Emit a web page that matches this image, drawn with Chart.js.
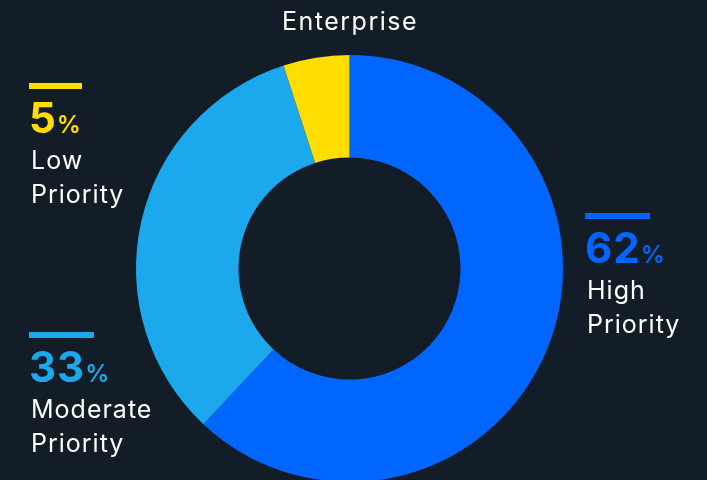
<!DOCTYPE html>
<html>
<head>
<meta charset="utf-8">
<title>Enterprise</title>
<script src="https://cdn.jsdelivr.net/npm/chart.js@4.4.0/dist/chart.umd.min.js"></script>
<style>
  html, body { margin: 0; padding: 0; background: #121d28; overflow: hidden; }
  #wrap { position: relative; width: 707px; height: 500px; }
</style>
</head>
<body>
<div id="wrap"><canvas id="priority-chart" width="707" height="500"></canvas></div>
<script>
// data
const categories = ['High Priority', 'Moderate Priority', 'Low Priority'];
const shares = [62, 33, 5];
const sliceColors = ['#0066ff', '#1ba8ec', '#ffdd00'];
const chartTitle = 'Enterprise';

// where each callout sits (bar top-left) and how long its bar is
const callouts = [
	{ x: 585, y: 213, bar: 65 },
	{ x: 29, y: 332, bar: 65 },
	{ x: 29, y: 83, bar: 53 }
];

const FONT = 'Inter, "Open Sans", sans-serif';

// draws the title and the three callouts next to the ring
const calloutPlugin = {
	id: 'callouts',
	afterDraw(chart) {
		const ctx = chart.ctx;
		ctx.save();
		ctx.letterSpacing = '1.5px';
		ctx.fillStyle = '#ffffff';
		ctx.textAlign = 'center';
		ctx.textBaseline = 'alphabetic';
		ctx.font = '400 25px ' + FONT;
		ctx.fillText(chartTitle, 350, 30);

		ctx.textAlign = 'left';
		categories.forEach((name, i) => {
			const c = callouts[i];
			const color = sliceColors[i];

			ctx.fillStyle = color;
			ctx.fillRect(c.x, c.y, c.bar, 6);

			ctx.letterSpacing = '1px';
			ctx.font = '700 42px ' + FONT;
			const num = String(shares[i]);
			ctx.fillText(num, c.x, c.y + 50);
			const w = ctx.measureText(num).width;
			ctx.letterSpacing = '0px';
			ctx.font = '600 24px ' + FONT;
			ctx.fillText('%', c.x + w, c.y + 50);

			ctx.letterSpacing = '1px';
			ctx.fillStyle = '#ffffff';
			ctx.font = '400 25px ' + FONT;
			const words = name.split(' ');
			ctx.fillText(words[0], c.x + 2, c.y + 86);
			ctx.fillText(words[1], c.x + 2, c.y + 120);
		});
		ctx.restore();
	}
};

const priorityChart = new Chart(document.getElementById('priority-chart'), {
	type: 'doughnut',
	data: {
		labels: categories,
		datasets: [{
			data: shares,
			backgroundColor: sliceColors,
			borderWidth: 0,
			hoverOffset: 0
		}]
	},
	options: {
		responsive: false,
		animation: false,
		devicePixelRatio: 1,
		cutout: '52%',
		layout: {
			padding: { left: 136, right: 144, top: 55, bottom: 18 }
		},
		plugins: {
			legend: { display: false },
			tooltip: { enabled: false }
		},
		events: []
	},
	plugins: [calloutPlugin]
});
</script>
</body>
</html>
